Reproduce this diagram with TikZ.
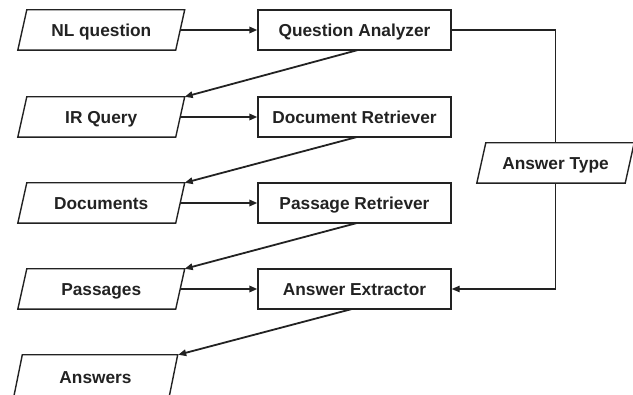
\documentclass[tikz,border=0pt]{standalone}
\usepackage{fontspec}
\setmainfont{Liberation Sans}
\usetikzlibrary{arrows.meta}
\definecolor{ink}{HTML}{222222}
\begin{document}
\begin{tikzpicture}[x=1pt,y=-1pt,
  lbl/.style={font=\fontsize{17.3}{20}\selectfont\bfseries, text=ink, inner sep=0pt, text height=12.4pt, text depth=0pt},
  procbox/.style={lbl, draw=ink, line width=1.4pt, minimum width=193pt, minimum height=40pt},
  databox/.style={lbl, minimum height=40pt},
  outline/.style={draw=ink, line width=1.4pt, line join=miter},
  flow/.style={draw=ink, line width=1.8pt, -{Triangle[length=8pt,width=6.5pt]}},
  thin/.style={draw=ink, line width=1.1pt},
  thinflow/.style={thin, -{Triangle[length=8pt,width=6.5pt]}}]
\useasboundingbox (0,0) rectangle (633,395);
% data (parallelograms)
\node[databox, minimum width=157.5pt] (nl)   at (101.25,30)  {NL question};
\node[databox, minimum width=157.5pt] (ir)   at (101.25,117) {IR Query};
\node[databox, minimum width=157.5pt] (docs) at (101.25,203) {Documents};
\node[databox, minimum width=157.5pt] (pass) at (101.25,289) {Passages};
\node[databox, minimum width=155pt, minimum height=44pt] (ans) at (95.5,377) {Answers};
\node[databox, minimum width=148pt]   (at)   at (555.5,163)  {Answer Type};
\foreach \n in {nl,ir,docs,pass,ans,at}
  \draw[outline] ([xshift=4.5pt]\n.north west) -- ([xshift=4.5pt]\n.north east)
    -- ([xshift=-4.5pt]\n.south east) -- ([xshift=-4.5pt]\n.south west) -- cycle;
% processes
\node[procbox] (qa) at (354.5,30)  {Question Analyzer};
\node[procbox] (dr) at (354.5,117) {Document Retriever};
\node[procbox] (pr) at (354.5,203) {Passage Retriever};
\node[procbox] (ae) at (354.5,289) {Answer Extractor};
% horizontal flows
\draw[flow] (nl.east) -- (qa.west);
\draw[flow] (ir.east) -- (dr.west);
\draw[flow] (docs.east) -- (pr.west);
\draw[flow] (pass.east) -- (ae.west);
% diagonal flows
\coordinate (qab) at (358,50);
\coordinate (drb) at (357,137);
\coordinate (prb) at (357,223);
\coordinate (aeb) at (352,309);
\draw[flow] (qab) -- ([xshift=4.5pt]ir.north east);
\draw[flow] (drb) -- ([xshift=4.5pt]docs.north east);
\draw[flow] (prb) -- ([xshift=4.5pt]pass.north east);
\draw[flow] (aeb) -- ([xshift=5pt]ans.north east);
% answer type loop
\draw[thin] (qa.east) -| (at.north);
\draw[thinflow] (at.south) |- (ae.east);
\end{tikzpicture}
\end{document}
